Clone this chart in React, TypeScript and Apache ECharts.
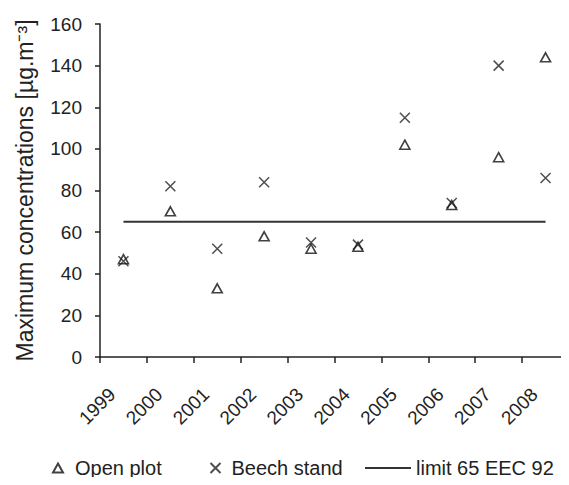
import React, { useEffect, useRef } from "react";
import * as echarts from "echarts";

const years = ["1999", "2000", "2001", "2002", "2003", "2004", "2005", "2006", "2007", "2008"];
const openPlot = [47, 70, 33, 58, 52, 53, 102, 73, 96, 144];
const beechStand = [46, 82, 52, 84, 55, 54, 115, 74, 140, 86];
const limit65 = [65, 65, 65, 65, 65, 65, 65, 65, 65, 65];
const yTicks = { min: 0, max: 160, interval: 20 };

const FONT = "'Liberation Sans', Arial, Helvetica, sans-serif";
const CROSS = "path://M0,0L10,10M0,10L10,0";

export default function App() {
  const ref = useRef<HTMLDivElement>(null);
  useEffect(() => {
    if (!ref.current) return;
    const chart = echarts.init(ref.current, undefined, { renderer: "svg" });
    const legendText = { fontFamily: FONT, fontSize: 20, color: "#222" };
    chart.setOption({
      animation: false,
      backgroundColor: "#fff",
      textStyle: { fontFamily: FONT },
      grid: { left: 100, right: -9, top: 24, bottom: 128, containLabel: false },
      legend: [
        {
          data: [{ name: "Open plot", icon: "triangle" }],
          left: 47, top: 453, itemWidth: 10, itemHeight: 9,
          textStyle: { ...legendText, padding: [0, 0, 0, 7] },
        },
        {
          data: [{ name: "Beech stand", icon: CROSS }],
          left: 203, top: 453, itemWidth: 10, itemHeight: 10,
          textStyle: { ...legendText, padding: [0, 0, 0, 6] },
        },
        {
          data: [{ name: "limit 65 EEC 92", icon: "rect", itemStyle: { color: "#333" } }],
          left: 360, top: 453, itemWidth: 46, itemHeight: 2,
          textStyle: { ...legendText, padding: [0, 0, 0, 0] },
        },
      ],
      xAxis: {
        type: "category",
        data: years,
        boundaryGap: true,
        axisLine: { lineStyle: { color: "#222", width: 1.5 } },
        axisTick: { show: true, length: 6, lineStyle: { color: "#222", width: 1.5 } },
        axisLabel: {
          rotate: 45, margin: 23, fontSize: 19, color: "#222", fontFamily: FONT,
          padding: [0, 16, 0, 0],
        },
        splitLine: { show: false },
      },
      yAxis: {
        type: "value",
        min: yTicks.min,
        max: yTicks.max,
        interval: yTicks.interval,
        name: "Maximum concentrations [µg.m⁻³]",
        nameLocation: "middle",
        nameGap: 64,
        nameTextStyle: { fontSize: 23, color: "#222", fontFamily: FONT },
        axisLine: { show: true, lineStyle: { color: "#222", width: 1.5 } },
        axisTick: { show: true, length: 5, lineStyle: { color: "#222", width: 1.5 } },
        axisLabel: { margin: 18, fontSize: 19, color: "#222", fontFamily: FONT },
        splitLine: { show: false },
      },
      series: [
        {
          name: "limit 65 EEC 92",
          type: "line",
          data: limit65,
          symbol: "none",
          lineStyle: { color: "#333", width: 2 },
          itemStyle: { color: "#333" },
          z: 1,
        },
        {
          name: "Open plot",
          type: "scatter",
          data: openPlot,
          symbol: "triangle",
          symbolSize: [10, 9],
          itemStyle: { color: "#fff", borderColor: "#111", borderWidth: 1.6 },
          z: 2,
        },
        {
          name: "Beech stand",
          type: "scatter",
          data: beechStand,
          symbol: CROSS,
          symbolSize: 10,
          itemStyle: { color: "none", borderColor: "#222", borderWidth: 1.5 },
          z: 3,
        },
      ],
    });
    return () => chart.dispose();
  }, []);
  return <div ref={ref} style={{ width: 569, height: 485, margin: -8 }} />;
}
